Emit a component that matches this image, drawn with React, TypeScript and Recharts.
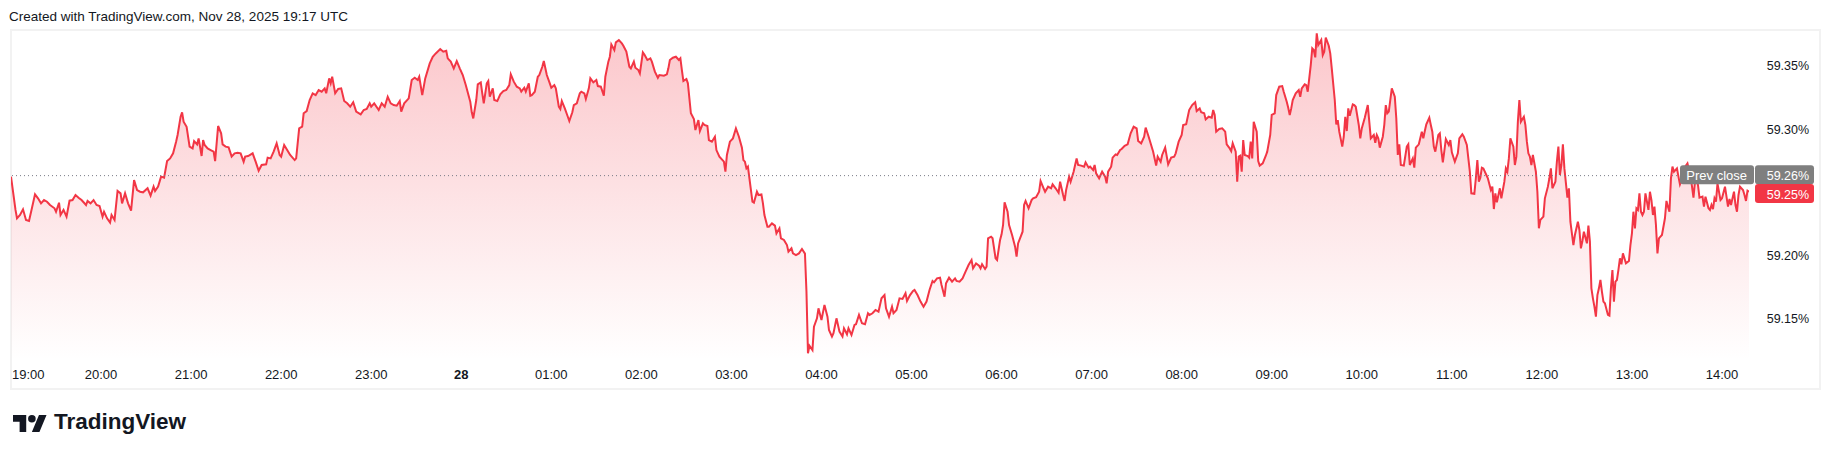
import React from 'react'
import { ComposedChart, Area, XAxis, YAxis, ReferenceLine } from 'recharts'

// minutes after 19:00 (Nov 27) and the yield read at that minute
const part1Minutes = [
  0, 3, 4, 6, 8, 10, 12, 14, 16, 18, 20, 22, 24, 26, 29, 30, 32, 33, 35, 37,
  39, 41, 43, 45, 47, 50, 51, 53, 55, 57, 59, 61, 62, 64, 66, 67, 69, 71, 73, 74,
  76, 78, 80, 82, 84, 86, 88, 91, 93, 95, 96, 98, 100, 102, 104, 106, 108, 110, 111, 113,
  114, 115, 117, 119, 121, 122, 124, 125, 127, 128, 129, 131, 133, 135, 136, 138, 140, 141, 143, 145,
  147, 149, 151, 153, 155, 156, 158, 161, 163, 165, 167, 170, 171, 173, 175, 177, 179, 180, 182, 184,
  186, 189, 190, 192, 194, 195, 197, 199, 201, 203, 205, 207, 209, 210, 212, 213, 214, 216, 218, 220,
  222, 224, 226, 228, 230, 233, 235,
]
const part1Yields = [
  59.2624, 59.2361, 59.2295, 59.2321, 59.2366, 59.2282, 59.2274, 59.2379, 59.2484, 59.2453,
  59.2413, 59.2439, 59.2426, 59.24, 59.2374, 59.2347, 59.2418, 59.2321, 59.2361, 59.2308,
  59.2434, 59.2439, 59.2479, 59.2458, 59.2439, 59.24, 59.2432, 59.2413, 59.2439, 59.24,
  59.2392, 59.2308, 59.2347, 59.2295, 59.2261, 59.2321, 59.2282, 59.2511, 59.2492, 59.2413,
  59.2492, 59.2413, 59.2355, 59.2597, 59.2518, 59.2505, 59.25, 59.2532, 59.2474, 59.2545,
  59.2511, 59.2545, 59.2624, 59.2616, 59.2747, 59.2768, 59.2808, 59.29, 59.2953, 59.3097,
  59.3132, 59.3058, 59.3018, 59.2861, 59.2847, 59.2905, 59.2879, 59.2926, 59.2787, 59.2913,
  59.2874, 59.2847, 59.2834, 59.2821, 59.2747, 59.3024, 59.2966, 59.2879, 59.2861, 59.2855,
  59.2782, 59.2808, 59.2813, 59.2808, 59.2742, 59.2782, 59.2787, 59.2808, 59.2742, 59.2671,
  59.2716, 59.2721, 59.2774, 59.2768, 59.2821, 59.2887, 59.2795, 59.2782, 59.2874, 59.2834,
  59.2795, 59.2755, 59.2768, 59.3005, 59.3018, 59.3124, 59.3142, 59.3229, 59.3282, 59.3268,
  59.3308, 59.3295, 59.3321, 59.3282, 59.34, 59.3361, 59.3413, 59.3282, 59.3316, 59.3321,
  59.3221, 59.3203, 59.3176, 59.3211, 59.3137, 59.3116, 59.315,
]

const part2Minutes = [
  237, 239, 240, 242, 245, 247, 249, 251, 253, 255, 257, 259, 260, 262, 265, 267, 269, 271, 272, 274,
  276, 279, 281, 283, 286, 288, 290, 291, 293, 295, 297, 299, 301, 303, 306, 307, 308, 310, 311, 313,
  314, 315, 317, 318, 319, 321, 322, 324, 326, 328, 330, 332, 333, 335, 337, 339, 340, 342, 343, 345,
  346, 347, 349, 351, 352, 354, 355, 357, 359, 360, 362, 363, 365, 366, 367, 369, 371, 372, 374, 375,
  377, 379, 380, 382, 383, 385, 386, 388, 390, 391, 393, 395, 396, 398, 399, 400, 402, 403, 405, 407,
  408, 410, 412, 413, 415, 416, 418, 419, 421, 422, 424, 426, 427, 429, 431, 432, 435, 437, 438, 439,
  441, 443, 445, 446, 447, 448, 450, 451, 453, 455, 456, 458, 459, 461, 462, 464, 465, 467, 469, 470,
  472, 475, 476, 477, 479, 481,
]
const part2Yields = [
  59.3158, 59.3203, 59.3176, 59.3203, 59.315, 59.3203, 59.3176, 59.3255, 59.3203, 59.3189,
  59.3184, 59.3221, 59.3137, 59.3203, 59.3242, 59.3387, 59.3405, 59.3387, 59.3413, 59.3268,
  59.34, 59.3518, 59.3571, 59.3597, 59.3632, 59.3611, 59.3618, 59.3558, 59.3532, 59.3479,
  59.3537, 59.3479, 59.3426, 59.3347, 59.3216, 59.3132, 59.3084, 59.3229, 59.3353, 59.3368,
  59.3282, 59.3203, 59.3361, 59.3379, 59.3255, 59.3321, 59.3229, 59.3221, 59.3274, 59.33,
  59.3308, 59.3347, 59.3432, 59.3374, 59.3334, 59.3321, 59.3295, 59.3326, 59.3295, 59.3361,
  59.3263, 59.3268, 59.3295, 59.3413, 59.3426, 59.3492, 59.3537, 59.3426, 59.3361, 59.3326,
  59.3347, 59.3321, 59.3176, 59.3158, 59.3221, 59.3163, 59.3097, 59.3063, 59.3132, 59.3189,
  59.3203, 59.3282, 59.3295, 59.3282, 59.3237, 59.3321, 59.34, 59.3368, 59.3387, 59.3339,
  59.3334, 59.3263, 59.3413, 59.3532, 59.3571, 59.3668, 59.3624, 59.3684, 59.3703, 59.3676,
  59.3658, 59.3611, 59.3492, 59.3479, 59.3532, 59.3484, 59.3466, 59.3439, 59.3605, 59.3589,
  59.3545, 59.3558, 59.3532, 59.3453, 59.3405, 59.3426, 59.3421, 59.3432, 59.3479, 59.3545,
  59.3563, 59.3571, 59.3545, 59.3558, 59.3466, 59.3379, 59.3395, 59.3361, 59.3124, 59.3079,
  59.2992, 59.3071, 59.2984, 59.3045, 59.3032, 59.3024, 59.2913, 59.29, 59.2939, 59.2834,
  59.2782, 59.2742, 59.2663, 59.2795, 59.29, 59.2926,
]

const part3Minutes = [
  483, 485, 487, 488, 489, 490, 491, 492, 494, 495, 497, 498, 500, 501, 502, 504, 505, 507, 509, 510,
  512, 513, 515, 517, 518, 520, 521, 523, 525, 527, 529, 530, 531, 532, 534, 535, 537, 538, 540, 542,
  544, 545, 547, 548, 550, 552, 554, 555, 557, 558, 560, 562, 563, 565, 567, 569, 571, 572, 574, 576,
  578, 580, 582, 583, 585, 587, 588, 590, 592, 594, 596, 597, 599, 601, 602, 604, 606, 608, 610, 612,
  614, 615, 617, 619, 620, 622, 623, 625, 627, 629, 630, 632, 634, 636, 638, 640, 641, 643, 645, 646,
  647, 649, 650, 651, 653, 654, 656, 657, 659, 660, 661, 662, 664, 665, 667, 669, 670, 671, 673, 674,
  675, 676, 678, 680, 681, 683, 685, 686, 688, 689, 691, 693, 694, 696, 698, 699, 701, 702, 703, 705,
  706, 708, 709, 710, 711, 713, 715, 716, 718, 719, 721, 722, 723, 725,
]
const part3Yields = [
  59.3005, 59.2939, 59.2853, 59.2755, 59.2742, 59.2689, 59.2703, 59.2611, 59.2426, 59.2418,
  59.2505, 59.2479, 59.2484, 59.2413, 59.2321, 59.2229, 59.2229, 59.2255, 59.2237, 59.2176,
  59.2216, 59.2137, 59.2124, 59.2084, 59.2032, 59.2058, 59.2018, 59.2005, 59.2018, 59.2053,
  59.2016, 59.1716, 59.1229, 59.1289, 59.1255, 59.1439, 59.1505, 59.1584, 59.1492, 59.1611,
  59.1518, 59.1413, 59.1361, 59.1387, 59.1505, 59.14, 59.1361, 59.1426, 59.1379, 59.1426,
  59.1374, 59.1453, 59.1458, 59.1532, 59.1466, 59.1458, 59.1545, 59.1532, 59.1545, 59.1571,
  59.1558, 59.1663, 59.1689, 59.1584, 59.1518, 59.1597, 59.1545, 59.1571, 59.1663, 59.1658,
  59.1703, 59.1642, 59.1689, 59.1721, 59.1729, 59.1689, 59.1637, 59.1597, 59.1637, 59.1729,
  59.18, 59.1789, 59.1821, 59.1826, 59.1768, 59.1676, 59.1782, 59.1826, 59.1795, 59.1821,
  59.18, 59.1795, 59.1821, 59.1874, 59.1926, 59.1966, 59.19, 59.1939, 59.1921, 59.19,
  59.1932, 59.1895, 59.1913, 59.2137, 59.215, 59.2137, 59.1979, 59.1966, 59.2124, 59.2168,
  59.2242, 59.2421, 59.2347, 59.2242, 59.2163, 59.2071, 59.1992, 59.2097, 59.2158, 59.2189,
  59.24, 59.2432, 59.2374, 59.2439, 59.2453, 59.2461, 59.2505, 59.2589, 59.2532, 59.2505,
  59.2545, 59.2532, 59.2563, 59.2532, 59.2497, 59.2584, 59.2479, 59.2432, 59.2518, 59.2624,
  59.2584, 59.2663, 59.2716, 59.2768, 59.2716, 59.2711, 59.2703, 59.2737, 59.2695, 59.2703,
  59.2676, 59.2716, 59.265, 59.2611,
]

const part4Minutes = [
  727, 729, 730, 731, 733, 734, 736, 737, 739, 740, 742, 744, 746, 748, 750, 751, 753, 755, 756, 758,
  759, 761, 763, 764, 766, 767, 769, 771, 773, 775, 776, 778, 780, 781, 783, 785, 787, 789, 790, 792,
  793, 795, 796, 798, 800, 801, 802, 803, 805, 807, 809, 810, 812, 813, 814, 816, 817, 818, 819, 820,
  821, 822, 824, 825, 826, 827, 828, 830, 831, 832, 834, 836, 837, 839, 840, 842, 843, 845, 847, 848,
  850, 851, 852, 853, 854, 856, 858, 859, 860, 862, 863, 864, 866, 867, 868, 869, 870, 871, 873, 874,
  875, 876, 878, 879, 880, 882, 883, 884, 885, 887, 888, 889, 890, 891, 892, 894, 895, 896, 898, 899,
  900, 902, 904, 905, 906, 908, 909, 910, 911, 912, 914, 915, 916, 917, 918, 920, 922, 923, 924, 925,
  926, 928, 930, 931, 932, 934, 935, 936, 938, 940, 941, 942, 943, 945, 946, 947, 948, 949, 951, 952,
  953, 954, 955, 956, 958, 959, 960, 962, 964, 965, 967, 968,
]
const part4Yields = [
  59.2663, 59.2624, 59.2571, 59.2663, 59.2703, 59.2774, 59.28, 59.2795, 59.2834, 59.2842,
  59.2868, 59.2879, 59.2966, 59.3018, 59.3005, 59.2905, 59.2887, 59.2939, 59.3011, 59.2939,
  59.29, 59.2821, 59.2711, 59.2782, 59.2742, 59.2795, 59.2853, 59.2721, 59.2774, 59.2782,
  59.2808, 59.29, 59.2953, 59.3032, 59.3039, 59.315, 59.3189, 59.3211, 59.3142, 59.3163,
  59.3132, 59.3124, 59.3076, 59.3097, 59.3089, 59.315, 59.3111, 59.2979, 59.3, 59.3005,
  59.2979, 59.2879, 59.2847, 59.2826, 59.2887, 59.2821, 59.2584, 59.2782, 59.2789, 59.2663,
  59.2913, 59.2795, 59.2787, 59.2774, 59.29, 59.2768, 59.3058, 59.2979, 59.2747, 59.2711,
  59.2729, 59.2787, 59.2821, 59.2953, 59.3111, 59.3124, 59.3268, 59.3334, 59.3339, 59.3295,
  59.3216, 59.3168, 59.3111, 59.3163, 59.3229, 59.3282, 59.3308, 59.3255, 59.3321, 59.3353,
  59.3347, 59.3295, 59.3505, 59.3637, 59.3624, 59.3566, 59.3755, 59.3663, 59.3703, 59.3584,
  59.3611, 59.3721, 59.3658, 59.3597, 59.3479, 59.3229, 59.3037, 59.3071, 59.2979, 59.2861,
  59.2939, 59.3097, 59.2984, 59.3163, 59.3105, 59.3195, 59.3189, 59.3176, 59.3032, 59.2926,
  59.3005, 59.3089, 59.3189, 59.3058, 59.2926, 59.2953, 59.2892, 59.2953, 59.2926, 59.2853,
  59.2939, 59.3032, 59.3189, 59.3124, 59.3137, 59.3321, 59.3255, 59.3084, 59.2795, 59.2879,
  59.2716, 59.2711, 59.2861, 59.2879, 59.2716, 59.2768, 59.2695, 59.2853, 59.2879, 59.2979,
  59.2926, 59.2984, 59.3037, 59.3089, 59.3032, 59.2979, 59.2861, 59.2821, 59.2953, 59.2966,
  59.2834, 59.2737, 59.2826, 59.2921, 59.2874, 59.2913, 59.2816, 59.2742, 59.2808, 59.2926,
  59.2958, 59.2939,
]

const part5Minutes = [
  970, 972, 973, 975, 976, 977, 978, 979, 980, 981, 983, 984, 986, 987, 988, 989, 990, 992, 993, 995,
  996, 997, 998, 999, 1001, 1002, 1003, 1004, 1005, 1006, 1008, 1009, 1010, 1011, 1012, 1013, 1014, 1016, 1017, 1018,
  1019, 1021, 1022, 1024, 1025, 1026, 1027, 1029, 1030, 1031, 1032, 1033, 1034, 1035, 1037, 1038, 1039, 1040, 1041, 1042,
  1044, 1045, 1046, 1047, 1048, 1050, 1051, 1052, 1053, 1054, 1055, 1056, 1057, 1058, 1059, 1060, 1061, 1062, 1064, 1065,
  1066, 1067, 1068, 1069, 1070, 1071, 1072, 1073, 1074, 1075, 1076, 1078, 1079, 1080, 1081, 1082, 1083, 1084, 1085, 1086,
  1087, 1088, 1089, 1091, 1092, 1093, 1094, 1095, 1096, 1097, 1098, 1099, 1100, 1102, 1103, 1104, 1105, 1106, 1107, 1108,
  1110, 1111, 1112, 1114, 1115, 1117, 1118, 1119, 1121, 1122, 1123, 1124, 1125, 1127, 1128, 1129, 1131, 1132, 1133, 1134,
  1135, 1136, 1137, 1139, 1140, 1142, 1144, 1145, 1146, 1148, 1149, 1150, 1151, 1152, 1154, 1155, 1156, 1157, 1158,
]
const part5Yields = [
  59.2874, 59.2663, 59.2492, 59.2488, 59.2611, 59.2755, 59.2584, 59.2616, 59.2695, 59.2689,
  59.2637, 59.2611, 59.2518, 59.2545, 59.2368, 59.2492, 59.2421, 59.2532, 59.2453, 59.2584,
  59.2689, 59.2663, 59.2768, 59.2926, 59.2861, 59.2716, 59.2782, 59.3058, 59.3229, 59.3058,
  59.3097, 59.3032, 59.29, 59.2808, 59.2782, 59.2716, 59.2795, 59.2663, 59.2505, 59.2216,
  59.2282, 59.2308, 59.2453, 59.2545, 59.2611, 59.2689, 59.2532, 59.2584, 59.2742, 59.2861,
  59.2637, 59.2716, 59.2879, 59.2689, 59.2458, 59.2532, 59.2268, 59.2176, 59.2084, 59.2163,
  59.2268, 59.2203, 59.2058, 59.2116, 59.2189, 59.2097, 59.2237, 59.2111, 59.1742, 59.1663,
  59.1597, 59.1518, 59.1689, 59.1742, 59.1808, 59.1716, 59.1637, 59.1624, 59.1532, 59.1526,
  59.1742, 59.1887, 59.1637, 59.1795, 59.1808, 59.1887, 59.1979, 59.1932, 59.2018, 59.1979,
  59.1939, 59.1958, 59.2084, 59.2176, 59.2347, 59.2216, 59.2374, 59.2361, 59.2492, 59.2347,
  59.2321, 59.2347, 59.2492, 59.2361, 59.2505, 59.2439, 59.2321, 59.2387, 59.2242, 59.2018,
  59.2137, 59.215, 59.2163, 59.2295, 59.2432, 59.2387, 59.2347, 59.2611, 59.2703, 59.2663,
  59.2689, 59.2624, 59.2563, 59.2624, 59.2695, 59.2729, 59.2676, 59.2637, 59.2458, 59.2584,
  59.2611, 59.2558, 59.2458, 59.2466, 59.2387, 59.2466, 59.2374, 59.2361, 59.24, 59.2368,
  59.2453, 59.2426, 59.2571, 59.2439, 59.2453, 59.2545, 59.2387, 59.2447, 59.24, 59.2505,
  59.24, 59.2347, 59.2479, 59.2545, 59.2518, 59.2479, 59.2432, 59.2513, 59.2505,
]

const hourTicks = [0, 60, 120, 180, 240, 300, 360, 420, 480, 540, 600, 660, 720, 780, 840, 900, 960, 1020, 1080, 1140]
const hourLabels = [
  '19:00', '20:00', '21:00', '22:00', '23:00', '28', '01:00', '02:00', '03:00', '04:00',
  '05:00', '06:00', '07:00', '08:00', '09:00', '10:00', '11:00', '12:00', '13:00', '14:00',
]
const yTicks = [59.15, 59.2, 59.3, 59.35]
const prevClose = 59.2632
const lastYield = part5Yields[part5Yields.length - 1]

const RED = '#f23645'
const TEXT = '#131722'
const FONT = '"Liberation Sans", Arial, sans-serif'

const minutes = [...part1Minutes, ...part2Minutes, ...part3Minutes, ...part4Minutes, ...part5Minutes]
const yields = [...part1Yields, ...part2Yields, ...part3Yields, ...part4Yields, ...part5Yields]
const data = minutes.map((t, i) => ({ t, v: yields[i] }))

function TimeTick(props: any) {
  const { x, y, payload } = props
  const label = hourLabels[hourTicks.indexOf(payload.value)]
  const first = payload.value === hourTicks[0]
  return (
    <text
      x={first ? x + 1 : x}
      y={y + 18.5}
      textAnchor={first ? 'start' : 'middle'}
      fill={TEXT}
      fontSize={13}
      fontFamily={FONT}
      fontWeight={label === '28' ? 700 : 400}
    >
      {label}
    </text>
  )
}

function PriceTick(props: any) {
  const { x, y, payload } = props
  return (
    <text x={x + 17.7} y={y + 4.5} fill={TEXT} fontSize={12.5} fontFamily={FONT}>
      {payload.value.toFixed(2)}%
    </text>
  )
}

function PrevCloseLabel(props: any) {
  const { viewBox } = props
  const right = viewBox.x + viewBox.width
  const y = viewBox.y
  return (
    <g>
      <rect x={right - 69} y={y - 10.5} width={74} height={19} rx={3} fill="#7f7f7f" />
      <text x={right - 32.3} y={y + 4.5} textAnchor="middle" fill="#fff" fontSize={13} fontFamily={FONT}>
        Prev close
      </text>
      <rect x={right + 6} y={y - 10.5} width={59} height={19} rx={3} fill="#7f7f7f" />
      <text x={right + 17.7} y={y + 4.5} fill="#fff" fontSize={12.5} fontFamily={FONT}>
        {prevClose.toFixed(2)}%
      </text>
    </g>
  )
}

function LastLabel(props: any) {
  const { viewBox } = props
  const right = viewBox.x + viewBox.width
  const y = viewBox.y
  return (
    <g>
      <rect x={right + 6} y={y - 7.7} width={59} height={19} rx={3} fill={RED} />
      <text x={right + 17.7} y={y + 7.1} fill="#fff" fontSize={12.5} fontFamily={FONT}>
        {lastYield.toFixed(2)}%
      </text>
    </g>
  )
}

function TvLogo() {
  return (
    <svg width={34} height={27} viewBox="0 0 36 28" style={{ position: 'absolute', left: 13, top: 411 }}>
      <path d="M14 22H7V11H0V4h14v18zM28 22h-8l7.5-18h8L28 22z" fill="#131722" />
      <circle cx={20} cy={8} r={4} fill="#131722" />
    </svg>
  )
}

export default function App() {
  return (
    <div style={{ position: 'absolute', left: 0, top: 0, width: 1831, height: 458, background: '#fff', fontFamily: FONT }}>
      <div style={{ position: 'absolute', left: 9, top: 9, fontSize: 13.5, lineHeight: '16px', color: TEXT, whiteSpace: 'nowrap' }}>
        Created with TradingView.com, Nov 28, 2025 19:17 UTC
      </div>
      <div
        style={{
          position: 'absolute',
          left: 10,
          top: 29,
          width: 1811,
          height: 361,
          boxSizing: 'border-box',
          border: '2px solid #f2f2f2',
        }}
      />
      <div style={{ position: 'absolute', left: 0, top: 0 }}>
        <ComposedChart width={1831} height={458} data={data} margin={{ top: 30, right: 0, bottom: 68, left: 11 }}>
          <defs>
            <linearGradient id="tvFill" x1="0" y1="0" x2="0" y2="1">
              <stop offset="0%" stopColor={RED} stopOpacity={0.28} />
              <stop offset="100%" stopColor={RED} stopOpacity={0.0} />
            </linearGradient>
          </defs>
          <XAxis
            dataKey="t"
            type="number"
            domain={[0, 1158]}
            ticks={hourTicks}
            interval={0}
            height={30}
            axisLine={false}
            tickLine={false}
            tickSize={0}
            tickMargin={0}
            tick={<TimeTick />}
            allowDataOverflow
          />
          <YAxis
            orientation="right"
            type="number"
            domain={[59.1176, 59.3782]}
            ticks={yTicks}
            interval={0}
            width={82}
            axisLine={false}
            tickLine={false}
            tickSize={0}
            tickMargin={0}
            tick={<PriceTick />}
            allowDataOverflow
          />
          <Area
            type="linear"
            dataKey="v"
            stroke={RED}
            strokeWidth={2}
            fill="url(#tvFill)"
            fillOpacity={1}
            dot={false}
            activeDot={false}
            isAnimationActive={false}
          />
          <ReferenceLine
            y={prevClose}
            stroke="#787b86"
            strokeDasharray="1 3"
            strokeWidth={1}
            label={(p: any) => <PrevCloseLabel {...p} />}
          />
          <ReferenceLine y={lastYield} stroke="none" label={(p: any) => <LastLabel {...p} />} />
        </ComposedChart>
      </div>
      <TvLogo />
      <div
        style={{
          position: 'absolute',
          left: 54,
          top: 409,
          fontSize: 22.5,
          lineHeight: '26px',
          fontWeight: 700,
          color: TEXT,
          whiteSpace: 'nowrap',
        }}
      >
        TradingView
      </div>
    </div>
  )
}
